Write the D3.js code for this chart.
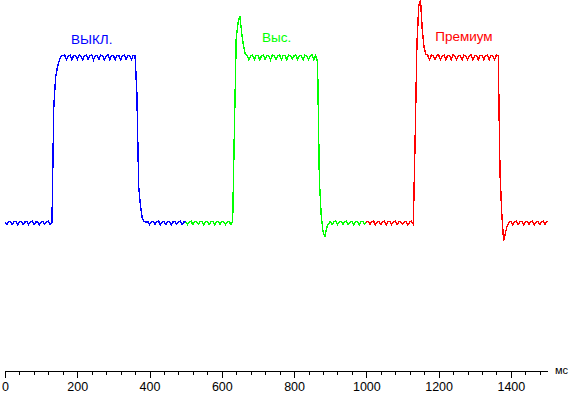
<!DOCTYPE html>
<html>
<head>
<meta charset="utf-8">
<script src="https://cdn.jsdelivr.net/npm/d3@7"></script>
<style>
  body { margin: 0; background: #fff; }
  svg { display: block; }
  .tick text { font-family: "Liberation Sans Narrow", "Arial Narrow", "Liberation Sans", Arial, sans-serif; }
</style>
</head>
<body>
<div id="chart"></div>
<script>
var width = 569,
  height = 396

// time step between samples (ms) and where each run starts
var sampleStep = 5
var seriesNames = ["ВЫКЛ.", "Выс.", "Премиум"]
var seriesStart = [0, 500, 1000]

// brightness, arbitrary units: 0 = dark level, 100 = bright plateau
var blueValues = [
  0.5, -0.8, 0.9, 1.0, -0.9, 0.7, 1.1, -1.1, 0.8, 0.9, -0.7, 0.6, 1.0, -1.0, 0.8, 1.1, -0.9, 0.5, 0.9, -1.1, 0.7, 1.0, -0.8, 0.6, 1.1, -0.9,
  0.4, 70, 88, 94, 98, 100.6,
  101.2, 101.5, 98.8, 101.0, 101.4, 98.6, 101.3, 101.1, 98.9, 101.5, 101.0, 98.5, 101.2, 101.4, 98.8, 101.1, 101.5, 98.6, 101.3, 101.0, 98.9,
  101.4, 101.2, 98.5, 101.0, 101.5, 98.7, 101.3, 101.1, 98.8, 101.4, 101.2, 98.6, 101.1, 101.5, 98.9, 101.2, 101.3, 98.7, 101.4, 101.0,
  78, 22, 10, 3, 1,
  0.3, 0.9, -1.0, 0.6, 1.0, -0.8, 0.8, 1.1, -1.0, 0.5, 0.9, -0.9, 0.7, 1.0, -1.1, 0.6, 0.9, -0.8, 0.8, 1.1, -0.9, 0.6, 1.0
]

var greenValues = [
  0.8, -0.9, 0.6, 1.1, -1.0, 0.8, 0.9, -0.8, 0.7, 1.1, -1.0, 0.6, 1.0, -0.9, 0.8, 1.1, -1.1, 0.5, 0.9, -0.8, 0.7, 1.0, -1.0, 0.8, 1.1, -0.9, 0.6,
  58, 112, 121, 125, 115, 107, 102,
  101.3, 98.7, 101.1, 101.5, 98.8, 101.2, 101.4, 98.6, 101.0, 101.5, 98.9, 101.3, 101.1, 98.5, 101.4, 101.2, 98.8, 101.0, 101.5, 98.7,
  101.3, 101.1, 98.6, 101.4, 101.2, 98.9, 101.0, 101.5, 98.7, 101.3, 101.2, 98.6, 101.4, 101.1, 98.8, 101.2, 101.5, 98.7, 101.3,
  97, 26, 5, -5, -8.5, -3,
  -0.5, 0.9, -0.9, 0.7, 1.1, -1.0, 0.6, 1.0, -0.8, 0.8, 1.1, -1.0, 0.5, 0.9, -0.9, 0.7, 1.0, -1.1, 0.8, 1.1, -0.8, 0.6
]

var redValues = [
  0.6, 1.0, -0.9, 0.8, 1.1, -1.0, 0.5, 0.9, -0.8, 0.7, 1.1, -1.1, 0.8, 1.0, -0.9, 0.6, 1.1, -1.0, 0.8, 0.9, -0.8, 0.7, 1.0, -1.1, 0.6, 1.1, -0.7,
  50, 108, 131, 135, 116, 106, 102,
  101.2, 98.8, 101.4, 101.1, 98.6, 101.3, 101.5, 98.9, 101.0, 101.4, 98.5, 101.2, 101.3, 98.8, 101.5, 101.0, 98.7, 101.3, 101.2, 98.6,
  101.4, 101.1, 98.9, 101.2, 101.5, 98.7, 101.0, 101.3, 98.6, 101.4, 101.2, 98.8, 101.1, 101.5, 98.7, 101.3, 101.0, 98.9, 101.4, 101.2,
  30, 5, -11, -6, -1.5,
  0.4, 0.9, -1.0, 0.7, 1.1, -0.9, 0.8, 1.0, -1.1, 0.6, 0.9, -0.8, 0.7, 1.1, -1.0, 0.5, 1.0, -0.9, 0.8, 1.1, -0.8, 1.2
]

var majorTicks = [0, 200, 400, 600, 800, 1000, 1200, 1400]
var minorTicks = [40, 80, 120, 160, 240, 280, 320, 360, 440, 480, 520, 560, 640, 680, 720, 760,
  840, 880, 920, 960, 1040, 1080, 1120, 1160, 1240, 1280, 1320, 1360, 1440, 1480]
var axisUnit = "мс"

var seriesColors = ["#0000ff", "#00ff00", "#ff0000"]
// label anchors in chart units (ms, brightness)
var labelAnchor = [[240, 108], [752, 109.4], [1270, 110]]

var svg = d3.select("#chart")
  .append("svg")
  .attr("width", width)
  .attr("height", height)

svg.append("rect")
  .attr("width", width)
  .attr("height", height)
  .attr("fill", "white")

// X scale
var xScale = d3.scaleLinear()
  .domain([0, 1500])
  .range([5, 547])

// Y scale
var yScale = d3.scaleLinear()
  .domain([0, 100])
  .range([223, 57.5])

var axisY = 371

// minor ticks first, then the major ones on top
svg.append("g")
  .attr("transform", `translate(0,${axisY})`)
  .attr("class", "x-minor")
  .style("shape-rendering", "crispEdges")
  .call(d3.axisBottom(xScale).tickValues(minorTicks).tickSize(4).tickSizeOuter(0).tickFormat(""))
  .call(g => g.select(".domain").remove())

var xAxis = d3.axisBottom(xScale)
  .tickValues(majorTicks)
  .tickSize(7)
  .tickSizeOuter(0)
  .tickPadding(4)
  .tickFormat(d => d)

svg.append("g")
  .attr("transform", `translate(0,${axisY})`)
  .attr("class", "x-axis")
  .style("shape-rendering", "crispEdges")
  .call(xAxis)
  .selectAll(".tick text")
  .style("font-size", "12.5px")
  .style("fill", "black")

svg.append("text")
  .text(axisUnit)
  .attr("x", 555)
  .attr("y", axisY + 3)
  .style("font-family", "Liberation Sans, Arial, sans-serif")
  .style("font-size", "11px")
  .style("fill", "black")

var allValues = [blueValues, greenValues, redValues]

var line = d3.line()
  .x(d => xScale(d.t))
  .y(d => yScale(d.v))

var linesG = svg.append("g").attr("class", "lines")

allValues.forEach(function(vals, i) {
  var pts = vals.map((v, k) => ({ t: seriesStart[i] + k * sampleStep, v: v }))
  linesG.append("path")
    .datum(pts)
    .attr("d", line)
    .attr("fill", "none")
    .attr("stroke", seriesColors[i])
    .attr("stroke-width", 1.4)
    .style("shape-rendering", "crispEdges")
})

svg.selectAll(".series-label")
  .data(seriesNames)
  .enter()
  .append("text")
  .attr("class", "series-label")
  .text(d => d)
  .attr("x", (d, i) => xScale(labelAnchor[i][0]))
  .attr("y", (d, i) => yScale(labelAnchor[i][1]))
  .attr("text-anchor", "middle")
  .style("font-family", "Liberation Sans, Arial, sans-serif")
  .style("font-size", "13.5px")
  .style("fill", (d, i) => seriesColors[i])
</script>
</body>
</html>
